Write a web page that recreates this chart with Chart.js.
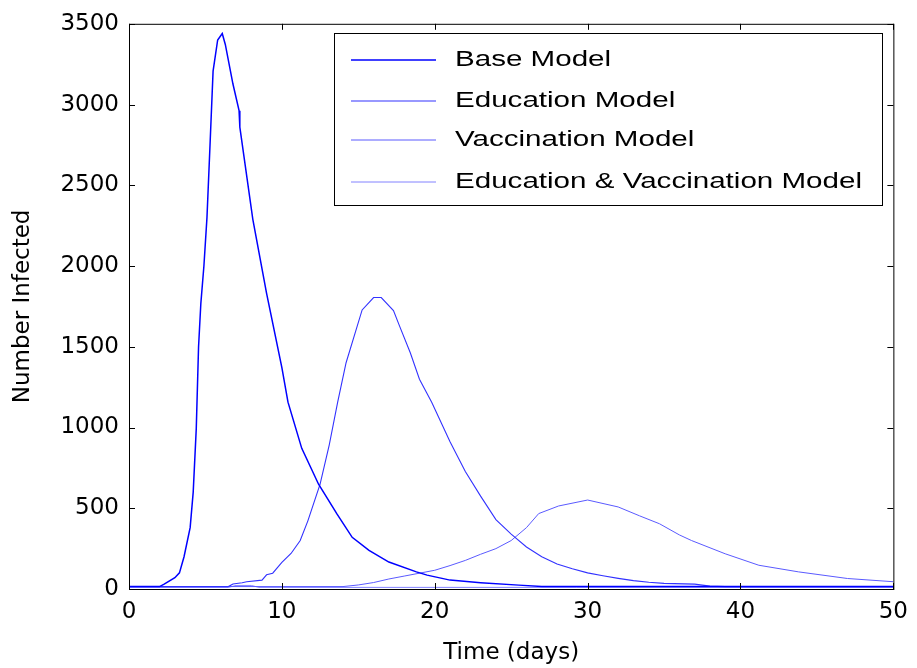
<!DOCTYPE html>
<html>
<head>
<meta charset="utf-8">
<script src="https://cdn.jsdelivr.net/npm/chart.js@4.4.1/dist/chart.umd.min.js"></script>
<style>
  html, body { margin: 0; padding: 0; background: #fff; }
  #wrap { width: 917px; height: 668px; }
</style>
</head>
<body>
<div id="wrap"><canvas id="infChart" width="917" height="668"></canvas></div>
<script>
// Number infected over time
const seriesNames = ['Base Model', 'Education Model', 'Vaccination Model', 'Education & Vaccination Model'];
const seriesColors = ['rgb(0,0,255)', 'rgb(50,50,255)', 'rgb(90,90,255)', 'rgb(130,130,255)'];
const seriesWidths = [1.5, 1.1, 1, 1];

const baseDays = [0, 2, 2.3, 3, 3.3, 3.6, 4, 4.2, 4.4, 4.55, 4.7, 4.9, 5.1, 5.3, 5.5, 5.8, 6.1, 6.3, 6.8, 7.2, 7.25, 8.1, 9, 10, 10.4, 11.3, 12.4, 13.6, 14.6, 15.7, 17, 18.8, 19.5, 21, 23, 25.5, 27, 50];
const baseInfected = [15, 15, 30, 70, 100, 200, 380, 600, 993, 1500, 1769, 2000, 2300, 2750, 3207, 3400, 3440, 3372, 3127, 2962, 2860, 2289, 1830, 1371, 1157, 871, 649, 465, 320, 239, 167, 106, 86, 55, 39, 24, 15, 15];

const eduDays = [0, 6.5, 6.8, 7.4, 7.7, 8.7, 9, 9.4, 10, 10.6, 11.2, 11.7, 12.5, 13.1, 13.65, 14.2, 15.25, 16, 16.5, 17.3, 17.7, 18.4, 19, 19.8, 21, 22, 23, 24, 25, 26, 27, 28, 29, 30, 31, 32, 33, 34, 35, 37, 38, 39, 50];
const eduInfected = [15, 15, 31, 39, 45, 55, 88, 98, 165, 220, 300, 422, 649, 893, 1157, 1401, 1728, 1805, 1805, 1724, 1628, 1463, 1299, 1157, 912, 728, 575, 430, 340, 260, 200, 155, 125, 100, 82, 66, 52, 42, 35, 30, 18, 15, 15];

const vacDays = [0, 14, 15, 16, 17, 18, 19, 20, 21, 22, 23, 24, 25, 26, 26.8, 28.1, 30, 32, 33.4, 34.7, 36, 36.8, 39, 41.2, 43.8, 47, 50];
const vacInfected = [15, 15, 25, 40, 62, 80, 98, 116, 145, 177, 215, 250, 300, 380, 467, 514, 551, 508, 453, 404, 335, 300, 218, 147, 106, 65, 45];

const eduVacDays = [0, 6.5, 7, 8, 8.5, 50];
const eduVacInfected = [10, 10, 22, 22, 10, 10];

const xTicks = [0, 10, 20, 30, 40, 50];
const yTicks = [0, 500, 1000, 1500, 2000, 2500, 3000, 3500];

const toPoints = (xs, ys) => xs.map((x, i) => ({ x: x, y: ys[i] }));
const allDays = [baseDays, eduDays, vacDays, eduVacDays];
const allInfected = [baseInfected, eduInfected, vacInfected, eduVacInfected];

const fontFamily = '"DejaVu Sans", Arial, sans-serif';
const legendFont = '"Liberation Sans", Arial, sans-serif';

// box, inward ticks on all four sides, and the boxed legend
const matlabFrame = {
    id: 'matlabFrame',
    afterDraw(chart) {
        const { ctx, chartArea: a, scales } = chart;
        const tl = 6;
        ctx.save();
        ctx.strokeStyle = '#000';
        ctx.lineWidth = 1;
        ctx.strokeRect(a.left + 0.5, a.top + 0.5, a.right - a.left, a.bottom - a.top);
        ctx.beginPath();
        xTicks.forEach(v => {
            const px = Math.round(scales.x.getPixelForValue(v)) + 0.5;
            ctx.moveTo(px, a.bottom); ctx.lineTo(px, a.bottom - tl);
            ctx.moveTo(px, a.top); ctx.lineTo(px, a.top + tl);
        });
        yTicks.forEach(v => {
            const py = Math.round(scales.y.getPixelForValue(v)) + 0.5;
            ctx.moveTo(a.left, py); ctx.lineTo(a.left + tl, py);
            ctx.moveTo(a.right, py); ctx.lineTo(a.right - tl, py);
        });
        ctx.stroke();

        // legend
        const bx = 334, by = 33, bw = 548, bh = 172;
        ctx.fillStyle = '#fff';
        ctx.fillRect(bx, by, bw, bh);
        ctx.strokeRect(bx + 0.5, by + 0.5, bw, bh);
        ctx.font = '22px ' + legendFont;
        ctx.textBaseline = 'middle';
        // the reference text is drawn a bit wide, stretch to match
        const longest = ctx.measureText(seriesNames[3]).width;
        const sx = 407 / longest;
        const rows = [60, 101, 140, 182];
        seriesNames.forEach((name, i) => {
            ctx.strokeStyle = seriesColors[i];
            ctx.lineWidth = seriesWidths[i];
            ctx.beginPath();
            ctx.moveTo(351, rows[i]);
            ctx.lineTo(436, rows[i]);
            ctx.stroke();
            ctx.save();
            ctx.translate(455, rows[i]);
            ctx.scale(sx, 1);
            ctx.fillStyle = '#000';
            ctx.fillText(name, 0, 0);
            ctx.restore();
        });
        ctx.restore();
    }
};

const ctx = document.getElementById('infChart').getContext('2d');

new Chart(ctx, {
    type: 'line',
    data: {
        datasets: seriesNames.map((name, i) => ({
            label: name,
            data: toPoints(allDays[i], allInfected[i]),
            borderColor: seriesColors[i],
            borderWidth: seriesWidths[i],
            pointRadius: 0,
            tension: 0,
            fill: false
        }))
    },
    options: {
        responsive: false,
        animation: false,
        layout: { padding: { left: 0, top: 17, right: 22, bottom: 0 } },
        plugins: {
            legend: { display: false },
            tooltip: { enabled: false }
        },
        scales: {
            x: {
                type: 'linear',
                min: 0,
                max: 50,
                grid: { display: false, drawTicks: false },
                border: { display: false },
                afterBuildTicks: s => { s.ticks = xTicks.map(v => ({ value: v })); },
                afterFit: s => { s.height = 79; },
                ticks: {
                    color: '#000', padding: 9,
                    font: { size: 23, family: fontFamily },
                    callback: v => String(v)
                },
                title: {
                    display: true,
                    text: 'Time (days)',
                    color: '#000',
                    padding: { top: 0, bottom: 1 },
                    font: { size: 23, family: fontFamily }
                }
            },
            y: {
                min: 0,
                max: 3500,
                grid: { display: false, drawTicks: false },
                border: { display: false },
                afterBuildTicks: s => { s.ticks = yTicks.map(v => ({ value: v })); },
                afterFit: s => { s.width = 129; },
                ticks: {
                    color: '#000', padding: 10,
                    font: { size: 23, family: fontFamily },
                    callback: v => String(v)
                },
                title: {
                    display: true,
                    text: 'Number Infected',
                    color: '#000',
                    padding: { top: 9, bottom: 0 },
                    font: { size: 23, family: fontFamily }
                }
            }
        }
    },
    plugins: [matlabFrame]
});
</script>
</body>
</html>
